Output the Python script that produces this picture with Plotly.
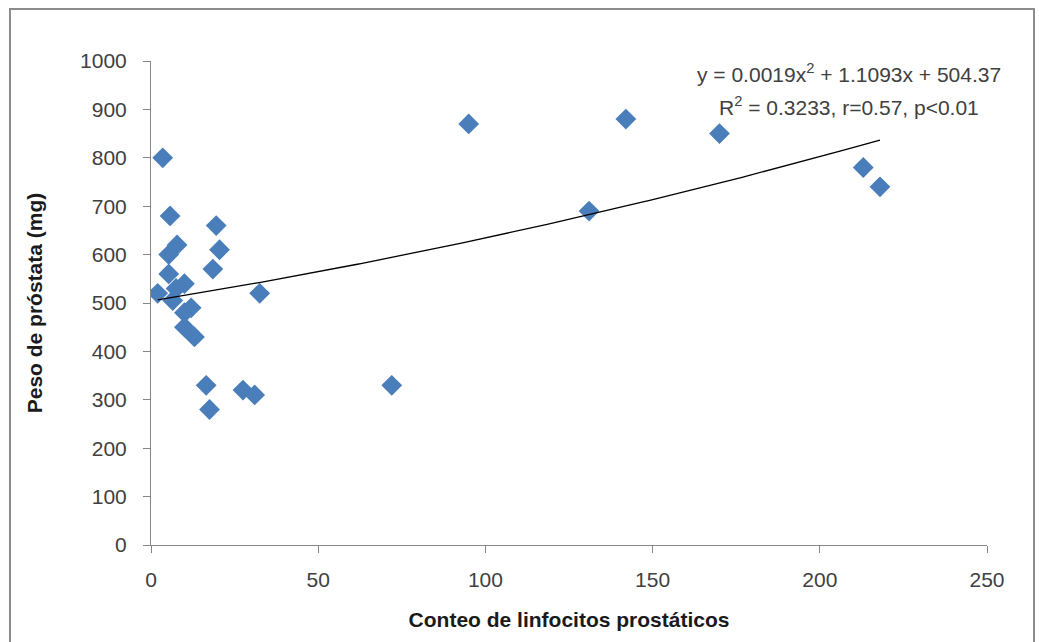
import numpy as np
import plotly.graph_objects as go

# Lymphocyte count vs prostate weight
linfocitos = [3.5, 5.7, 7.8, 5.3, 5.3, 10.0, 7.5, 2.0, 6.5, 12.0, 10.0, 10.0, 13.0,
              19.5, 20.5, 18.5, 32.5, 16.5, 17.5, 27.5, 31.0, 72.0, 95.0, 131.0,
              142.0, 170.0, 213.0, 218.0]
peso = [800, 680, 620, 600, 560, 540, 530, 520, 505, 490, 480, 450, 430,
        660, 610, 570, 520, 330, 280, 320, 310, 330, 870, 690,
        880, 850, 780, 740]

# Polynomial trend (order 2) coefficients
coef_a, coef_b, coef_c = 0.0019, 1.1093, 504.37
r2_text = "R<sup>2</sup> = 0.3233, r=0.57, p&lt;0.01"
eq_text = "y = 0.0019x<sup>2</sup> + 1.1093x + 504.37"

x_ticks = [0, 50, 100, 150, 200, 250]
y_ticks = [0, 100, 200, 300, 400, 500, 600, 700, 800, 900, 1000]

FONT = "Liberation Sans, Arial, sans-serif"
TXT = "#404040"
AX = "#868686"

xs = np.linspace(min(linfocitos), max(linfocitos), 200)
ys = coef_a * xs**2 + coef_b * xs + coef_c

fig = go.Figure()
fig.add_trace(go.Scatter(
    x=linfocitos, y=peso, mode="markers",
    marker=dict(symbol="diamond", size=16, color="#4A7EBB", line=dict(width=0)),
    showlegend=False,
))
fig.add_trace(go.Scatter(
    x=xs, y=ys, mode="lines",
    line=dict(color="black", width=1.3),
    showlegend=False,
))

fig.update_layout(
    width=1039, height=642,
    margin=dict(l=151, r=52, t=61, b=97),
    paper_bgcolor="white", plot_bgcolor="white",
    font=dict(family=FONT, color=TXT, size=21),
    xaxis=dict(
        range=[0, 250], tickvals=x_ticks, showgrid=False, zeroline=False,
        showline=True, linecolor=AX, linewidth=1,
        ticks="outside", ticklen=7, tickcolor=AX,
        tickfont=dict(size=21, color=TXT), ticklabelstandoff=9,
        title=dict(text="<b>Conteo de linfocitos prostáticos</b>",
                   font=dict(size=21, color="#1a1a1a"), standoff=22),
    ),
    yaxis=dict(
        range=[0, 1000], tickvals=y_ticks, showgrid=False, zeroline=False,
        showline=True, linecolor=AX, linewidth=1,
        ticks="outside", ticklen=7, tickcolor=AX,
        tickfont=dict(size=21, color=TXT), ticklabelstandoff=12,
        title=dict(text="<b>Peso de próstata (mg)</b>",
                   font=dict(size=21, color="#1a1a1a"), standoff=31),
    ),
)

# Trend-line equation and statistics
fig.add_annotation(xref="paper", yref="paper", x=0.835, y=(545 - 73) / 484,
                   text=eq_text, showarrow=False, xanchor="center", yanchor="middle",
                   font=dict(size=21, color=TXT))
fig.add_annotation(xref="paper", yref="paper", x=0.835, y=(545 - 106) / 484,
                   text=r2_text, showarrow=False, xanchor="center", yanchor="middle",
                   font=dict(size=21, color=TXT))

# Chart-area frame
fig.add_shape(type="rect", xref="paper", yref="paper",
              x0=(10 - 151) / 836, x1=(1034 - 151) / 836,
              y0=(545 - 660) / 484, y1=(545 - 9) / 484,
              line=dict(color="#8c8c8c", width=2), layer="below")

fig.write_html("out.html")
